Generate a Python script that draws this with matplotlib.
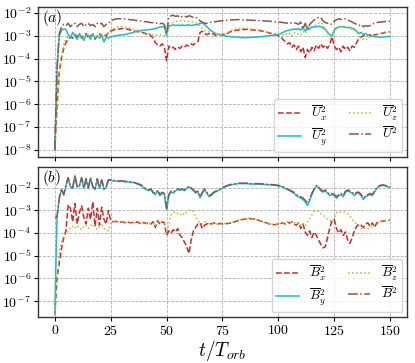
import matplotlib
matplotlib.use('Agg')
import matplotlib.pyplot as plt
from matplotlib.ticker import LogLocator
import numpy as np

plt.rcParams['font.family'] = 'serif'
plt.rcParams['font.serif'] = ['cmr10', 'DejaVu Serif']
plt.rcParams['mathtext.fontset'] = 'cm'
plt.rcParams['axes.unicode_minus'] = False
plt.rcParams['axes.formatter.use_mathtext'] = True

# time in orbits
t = np.arange(0, 151)

# log10 of the averaged squared velocity components (panel a)
ux2 = [-8.0, -6.0, -4.6, -3.95, -3.55, -3.3, -3.15, -3.05, -3.1, -2.95,
       -3.05, -2.95, -3.1, -3.0, -2.9, -3.1, -3.0, -2.95, -3.15, -3.0,
       -2.9, -3.05, -2.95, -3.0, -2.85, -2.8, -2.75, -2.72, -2.7, -2.7,
       -2.68, -2.68, -2.7, -2.72, -2.75, -2.78, -2.8, -2.82, -2.83, -2.85,
       -2.88, -2.92, -2.9, -3.0, -3.1, -3.3, -3.4, -3.45, -3.35, -3.5,
       -4.1, -3.45, -3.55, -3.5, -3.6, -3.5, -3.55, -3.45, -3.5, -3.4,
       -3.45, -3.35, -3.4, -3.3, -3.25, -2.85, -2.8, -2.9, -2.95, -2.9,
       -2.95, -2.9, -3.0, -2.95, -2.95, -2.95, -2.92, -2.9, -2.85, -2.8,
       -2.78, -2.75, -2.75, -2.73, -2.72, -2.72, -2.72, -2.73, -2.74, -2.75,
       -2.75, -2.76, -2.78, -2.8, -2.82, -2.85, -2.88, -2.9, -2.92, -2.95,
       -3.0, -3.05, -3.15, -3.25, -3.35, -3.3, -3.5, -3.4, -3.6, -3.45,
       -3.7, -3.5, -3.95, -3.6, -3.75, -3.5, -3.65, -3.4, -3.55, -3.35,
       -3.5, -3.4, -3.55, -3.35, -3.05, -3.45, -3.6, -3.5, -3.7, -3.45,
       -3.6, -3.5, -3.65, -3.45, -3.5, -3.3, -3.1, -3.05, -3.0, -2.95,
       -3.0, -2.95, -3.05, -2.95, -2.95, -2.9, -2.9, -2.88, -2.85, -2.83,
       -2.82]
uy2 = [-8.0, -4.5, -3.0, -2.75, -2.7, -2.72, -2.95, -3.1, -2.85, -3.0,
       -3.15, -2.9, -3.05, -3.2, -2.95, -3.0, -3.15, -2.9, -3.1, -3.0,
       -3.1, -2.95, -3.27, -3.05, -3.1, -3.05, -3.02, -3.0, -2.98, -2.97,
       -2.96, -2.95, -2.93, -2.9, -2.88, -2.85, -2.82, -2.8, -2.78, -2.76,
       -2.75, -2.74, -2.73, -2.72, -2.7, -2.68, -2.65, -2.62, -2.6, -2.6,
       -3.0, -2.55, -2.55, -2.52, -2.55, -2.53, -2.55, -2.52, -2.55, -2.53,
       -2.52, -2.55, -2.53, -2.52, -2.5, -2.45, -2.45, -2.5, -2.6, -2.7,
       -2.78, -2.85, -2.9, -2.93, -2.95, -2.97, -3.0, -3.02, -3.03, -3.04,
       -3.05, -3.05, -3.06, -3.07, -3.08, -3.08, -3.08, -3.07, -3.07, -3.06,
       -3.05, -3.05, -3.04, -3.03, -3.02, -3.0, -2.99, -2.98, -2.97, -2.96,
       -2.95, -2.9, -2.85, -2.8, -2.77, -2.75, -2.72, -2.7, -2.72, -2.68,
       -2.75, -2.65, -2.8, -2.62, -2.7, -2.6, -2.62, -2.6, -2.58, -2.6,
       -2.65, -2.72, -2.85, -2.95, -3.0, -2.75, -2.65, -2.62, -2.6, -2.6,
       -2.62, -2.65, -2.63, -2.68, -2.7, -2.8, -2.9, -2.85, -2.95, -2.9,
       -2.97, -3.0, -3.02, -3.03, -3.05, -3.05, -3.06, -3.05, -3.04, -3.03,
       -3.02]
uz2 = [-8.0, -6.5, -4.7, -3.9, -3.35, -3.1, -3.05, -3.0, -2.95, -3.05,
       -2.95, -3.05, -2.95, -3.1, -3.0, -2.95, -3.05, -3.1, -2.95, -3.05,
       -3.0, -2.95, -3.1, -2.95, -2.85, -2.75, -2.7, -2.65, -2.62, -2.6,
       -2.6, -2.62, -2.63, -2.65, -2.68, -2.7, -2.72, -2.75, -2.78, -2.8,
       -2.85, -2.88, -2.9, -2.95, -2.97, -2.95, -2.98, -2.95, -2.97, -3.0,
       -2.95, -2.7, -2.5, -2.4, -2.38, -2.35, -2.35, -2.33, -2.35, -2.38,
       -2.35, -2.38, -2.4, -2.42, -2.45, -2.6, -2.7, -2.75, -2.8, -2.82,
       -2.85, -2.88, -2.9, -2.92, -2.93, -2.95, -2.92, -2.88, -2.8, -2.75,
       -2.72, -2.7, -2.68, -2.67, -2.66, -2.66, -2.67, -2.68, -2.7, -2.71,
       -2.72, -2.73, -2.75, -2.78, -2.8, -2.83, -2.86, -2.88, -2.9, -2.9,
       -2.92, -2.9, -2.95, -2.88, -2.97, -2.9, -3.0, -2.85, -2.95, -2.9,
       -2.95, -2.8, -2.9, -2.75, -2.7, -2.65, -2.6, -2.5, -2.45, -2.4,
       -2.55, -2.7, -2.9, -3.0, -3.1, -2.85, -2.7, -2.6, -2.6, -2.62,
       -2.65, -2.62, -2.68, -2.7, -2.75, -2.85, -3.0, -3.1, -3.15, -3.2,
       -3.1, -3.05, -3.0, -2.95, -2.92, -2.9, -2.88, -2.85, -2.83, -2.82,
       -2.8]
u2 = [-8.0, -4.4, -2.9, -2.6, -2.5, -2.55, -2.45, -2.6, -2.5, -2.45,
      -2.6, -2.5, -2.45, -2.6, -2.5, -2.45, -2.55, -2.5, -2.6, -2.45,
      -2.5, -2.45, -2.6, -2.5, -2.45, -2.35, -2.3, -2.27, -2.25, -2.25,
      -2.25, -2.26, -2.27, -2.28, -2.3, -2.3, -2.32, -2.33, -2.35, -2.35,
      -2.38, -2.38, -2.4, -2.42, -2.43, -2.45, -2.45, -2.47, -2.45, -2.5,
      -2.9, -2.2, -2.12, -2.1, -2.15, -2.12, -2.2, -2.15, -2.12, -2.18,
      -2.12, -2.15, -2.2, -2.18, -2.25, -2.35, -2.4, -2.45, -2.45, -2.42,
      -2.4, -2.38, -2.38, -2.36, -2.35, -2.34, -2.33, -2.32, -2.31, -2.3,
      -2.3, -2.29, -2.29, -2.29, -2.3, -2.3, -2.31, -2.31, -2.32, -2.32,
      -2.33, -2.33, -2.34, -2.34, -2.35, -2.35, -2.36, -2.37, -2.38, -2.38,
      -2.4, -2.4, -2.42, -2.43, -2.45, -2.42, -2.45, -2.43, -2.45, -2.5,
      -2.4, -2.7, -2.45, -2.75, -2.5, -2.4, -2.3, -2.25, -2.18, -2.2,
      -2.35, -2.42, -2.45, -2.5, -2.48, -2.35, -2.3, -2.25, -2.28, -2.3,
      -2.25, -2.3, -2.35, -2.4, -2.45, -2.5, -2.55, -2.5, -2.6, -2.55,
      -2.58, -2.55, -2.48, -2.45, -2.42, -2.4, -2.4, -2.38, -2.37, -2.36,
      -2.36]

# log10 of the averaged squared magnetic field components (panel b)
bx2 = [-7.6, -6.0, -5.3, -4.7, -4.2, -3.9, -2.75, -2.9, -3.5, -2.7,
       -3.6, -3.1, -2.8, -3.3, -3.6, -2.9, -3.4, -2.62, -3.7, -2.9,
       -3.65, -2.85, -3.4, -3.6, -3.0, -3.45, -3.5, -3.48, -3.5, -3.52,
       -3.5, -3.53, -3.55, -3.52, -3.55, -3.53, -3.55, -3.5, -3.57, -3.52,
       -3.55, -3.58, -3.52, -3.6, -3.5, -3.75, -3.45, -3.6, -3.5, -3.55,
       -4.1, -3.9, -4.0, -3.85, -3.95, -3.8, -4.1, -4.2, -4.4, -4.6,
       -4.9, -4.3, -3.9, -3.75, -3.6, -3.55, -3.8, -3.65, -3.6, -3.55,
       -3.6, -3.55, -3.58, -3.6, -3.57, -3.6, -3.6, -3.58, -3.57, -3.55,
       -3.52, -3.48, -3.45, -3.42, -3.4, -3.38, -3.37, -3.36, -3.37, -3.38,
       -3.4, -3.43, -3.47, -3.5, -3.53, -3.56, -3.6, -3.62, -3.63, -3.62,
       -3.6, -3.58, -3.55, -3.6, -3.52, -3.56, -3.5, -3.6, -3.65, -3.55,
       -3.8, -3.6, -3.95, -4.1, -3.9, -4.2, -3.95, -4.1, -4.3, -4.5,
       -4.65, -4.6, -4.2, -3.75, -3.45, -3.4, -3.8, -4.0, -3.85, -4.1,
       -3.95, -4.3, -4.45, -4.2, -3.9, -3.7, -3.6, -3.65, -3.75, -3.6,
       -3.55, -3.7, -3.55, -3.75, -3.55, -3.5, -3.48, -3.47, -3.45, -3.44,
       -3.43]
by2 = [-7.6, -3.3, -2.47, -2.07, -2.33, -1.92, -1.57, -1.97, -2.03, -1.47,
       -1.97, -1.93, -1.57, -2.03, -1.62, -2.03, -1.57, -1.97, -2.08, -1.62,
       -2.03, -1.67, -2.08, -1.98, -1.67, -1.67, -1.7, -1.7, -1.72, -1.72,
       -1.72, -1.73, -1.74, -1.75, -1.76, -1.77, -1.8, -1.84, -1.88, -1.93,
       -2.03, -2.08, -2.13, -2.08, -2.24, -2.3, -2.14, -2.35, -2.24, -2.3,
       -2.98, -2.35, -2.19, -2.24, -2.14, -2.08, -2.1, -2.08, -2.13, -2.03,
       -1.97, -2.03, -2.13, -2.23, -2.18, -2.45, -2.24, -2.08, -2.24, -2.39,
       -2.34, -2.24, -2.18, -2.13, -2.08, -2.02, -1.97, -1.92, -1.9, -1.87,
       -1.85, -1.84, -1.82, -1.82, -1.82, -1.82, -1.82, -1.83, -1.84, -1.84,
       -1.84, -1.84, -1.85, -1.85, -1.86, -1.87, -1.87, -1.88, -1.89, -1.9,
       -1.92, -1.94, -1.97, -2.03, -2.08, -2.13, -2.19, -2.24, -2.35, -2.4,
       -2.46, -2.52, -2.62, -2.78, -2.56, -2.29, -2.08, -1.93, -1.98, -2.14,
       -2.19, -2.14, -2.24, -2.35, -2.3, -2.35, -2.46, -2.35, -2.3, -2.4,
       -2.19, -2.14, -2.19, -2.24, -2.35, -2.24, -2.24, -2.35, -2.52, -2.4,
       -2.35, -2.3, -2.35, -2.19, -2.03, -1.95, -1.9, -1.9, -1.92, -1.97,
       -1.98]
bz2 = [-7.6, -6.2, -4.8, -4.4, -4.1, -4.0, -3.95, -3.75, -3.7, -3.8,
       -3.65, -3.75, -3.85, -3.7, -3.65, -3.8, -3.7, -3.6, -3.75, -3.85,
       -3.7, -3.65, -3.8, -3.85, -3.9, -3.6, -3.5, -3.5, -3.5, -3.52,
       -3.52, -3.53, -3.54, -3.55, -3.55, -3.56, -3.55, -3.56, -3.58, -3.57,
       -3.58, -3.57, -3.58, -3.6, -3.55, -3.7, -3.5, -3.55, -3.5, -3.6,
       -4.0, -3.6, -3.2, -3.1, -3.05, -3.15, -3.2, -3.1, -3.2, -3.05,
       -3.0, -3.0, -3.05, -3.3, -3.45, -3.55, -3.6, -3.5, -3.55, -3.58,
       -3.6, -3.58, -3.6, -3.59, -3.6, -3.58, -3.57, -3.56, -3.55, -3.52,
       -3.5, -3.46, -3.43, -3.4, -3.38, -3.36, -3.35, -3.35, -3.36, -3.38,
       -3.4, -3.43, -3.46, -3.5, -3.53, -3.56, -3.58, -3.6, -3.62, -3.62,
       -3.6, -3.57, -3.55, -3.58, -3.5, -3.55, -3.5, -3.52, -3.6, -3.55,
       -3.65, -3.55, -3.7, -3.5, -3.35, -3.2, -3.05, -3.0, -3.05, -3.15,
       -3.2, -3.3, -3.4, -3.45, -3.5, -3.35, -3.1, -3.05, -3.08, -3.05,
       -3.1, -3.15, -3.25, -3.4, -3.5, -3.6, -3.7, -3.8, -3.85, -3.75,
       -3.8, -3.7, -3.75, -3.65, -3.6, -3.55, -3.5, -3.48, -3.46, -3.45,
       -3.44]
b2 = [-3.3, -3.3, -2.45, -2.05, -2.3, -1.9, -1.55, -1.95, -2.0, -1.45,
      -1.95, -1.9, -1.55, -2.0, -1.6, -2.0, -1.55, -1.95, -2.05, -1.6,
      -2.0, -1.65, -2.05, -1.95, -1.65, -1.65, -1.68, -1.68, -1.7, -1.7,
      -1.7, -1.71, -1.72, -1.73, -1.74, -1.75, -1.78, -1.82, -1.85, -1.9,
      -2.0, -2.05, -2.1, -2.05, -2.2, -2.25, -2.1, -2.3, -2.2, -2.25,
      -2.9, -2.3, -2.15, -2.2, -2.1, -2.05, -2.08, -2.05, -2.1, -2.0,
      -1.95, -2.0, -2.1, -2.2, -2.15, -2.4, -2.2, -2.05, -2.2, -2.35,
      -2.3, -2.2, -2.15, -2.1, -2.05, -2.0, -1.95, -1.9, -1.88, -1.85,
      -1.83, -1.82, -1.8, -1.8, -1.8, -1.8, -1.8, -1.81, -1.82, -1.82,
      -1.82, -1.82, -1.83, -1.83, -1.84, -1.85, -1.85, -1.86, -1.87, -1.88,
      -1.9, -1.92, -1.95, -2.0, -2.05, -2.1, -2.15, -2.2, -2.3, -2.35,
      -2.4, -2.45, -2.55, -2.65, -2.5, -2.25, -2.05, -1.9, -1.95, -2.1,
      -2.15, -2.1, -2.2, -2.3, -2.25, -2.3, -2.4, -2.3, -2.25, -2.35,
      -2.15, -2.1, -2.15, -2.2, -2.3, -2.2, -2.2, -2.3, -2.45, -2.35,
      -2.3, -2.25, -2.3, -2.15, -2.0, -1.92, -1.88, -1.88, -1.9, -1.95,
      -1.96]

xticks = [0, 25, 50, 75, 100, 125, 150]

colors = ['#d62728', '#17becf', '#bcbd22', '#8c564b']
styles = ['--', '-', ':', '-.']

fig = plt.figure(figsize=(4.15, 3.63), dpi=100)
ax1 = fig.add_axes([0.0916, 0.5675, 0.889, 0.413])
ax2 = fig.add_axes([0.0916, 0.1267, 0.889, 0.413], sharex=ax1)

top = [(ux2, r'$\overline{U}_x^2$'), (uy2, r'$\overline{U}_y^2$'),
       (uz2, r'$\overline{U}_z^2$'), (u2, r'$\overline{U}^2$')]
bot = [(bx2, r'$\overline{B}_x^2$'), (by2, r'$\overline{B}_y^2$'),
       (bz2, r'$\overline{B}_z^2$'), (b2, r'$\overline{B}^2$')]

for ax, series, lab, ylim in [(ax1, top, '$(a)$', (10**-8.31, 10**-1.74)),
                              (ax2, bot, '$(b)$', (10**-7.7, 10**-1.09))]:
    for (vals, name), c, ls in zip(series, colors, styles):
        ax.plot(t, 10.0 ** np.array(vals), color=c, ls=ls, lw=1.1, label=name)
    ax.set_yscale('log')
    ax.set_ylim(*ylim)
    ax.yaxis.set_major_locator(LogLocator(base=10, numticks=20))
    ax.minorticks_off()
    ax.grid(True, ls='--', color='#b0b0b0', lw=0.6)
    for s in ax.spines.values():
        s.set_linewidth(1.0)
        s.set_color('#333333')
    ax.tick_params(labelsize=10, length=3, pad=2)
    ax.text(0.012, 0.9, lab, transform=ax.transAxes, fontsize=11)
    ax.legend(loc='lower right', ncol=2, fontsize=9.5, handlelength=1.7,
              columnspacing=1.6, labelspacing=0.25, borderpad=0.35,
              handletextpad=0.8, borderaxespad=0.35)

ax1.set_xlim(-7.5, 157.5)
ax1.set_xticks(xticks)
ax1.tick_params(labelbottom=False)
ax2.set_xlabel('$t/T_{orb}$', fontsize=14, labelpad=0)

fig.savefig('out.png', dpi=100)
